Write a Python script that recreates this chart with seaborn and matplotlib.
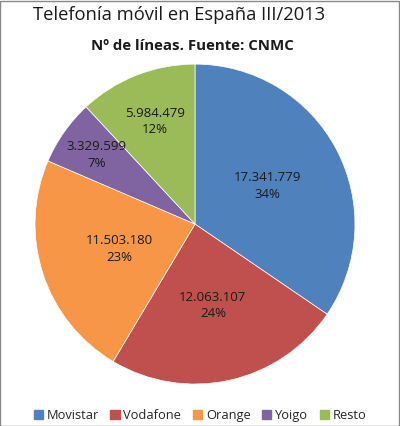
import numpy as np
import matplotlib
matplotlib.use("Agg")
import matplotlib.pyplot as plt
import seaborn as sns

# data
operadores = ["Movistar", "Vodafone", "Orange", "Yoigo", "Resto"]
lineas = [17341779, 12063107, 11503180, 3329599, 5984479]
colores = ["#4F81BD", "#C0504D", "#F79646", "#8064A2", "#9BBB59"]

sns.set_theme(style="white")
plt.rcParams["font.family"] = ["Open Sans", "DejaVu Sans"]

fig = plt.figure(figsize=(4.0, 4.26), dpi=100)
ax = fig.add_axes([0.0875, 0.0985, 0.8, 0.751])


def fmt_miles(v):
    return f"{v:,}".replace(",", ".")


def porcentajes(vals):
    # rounded percentages that add up to 100 (largest remainder, like Excel)
    raw = 100 * np.array(vals) / sum(vals)
    base = np.floor(raw).astype(int)
    resto = 100 - base.sum()
    orden = np.argsort(-(raw - base))
    base[orden[:resto]] += 1
    return base


pcts = porcentajes(lineas)

wedges, _ = ax.pie(lineas, colors=colores, startangle=90, counterclock=False,
                   wedgeprops=dict(edgecolor="white", linewidth=0.5))
ax.set_xlim(-1.0, 1.0)
ax.set_ylim(-1.0, 1.0)
ax.set_aspect("equal")

# label distance per slice (fraction of radius), like the Excel layout
dist = [0.51, 0.52, 0.50, 0.75, 0.69]
for w, v, p, d in zip(wedges, lineas, pcts, dist):
    ang = np.deg2rad((w.theta1 + w.theta2) / 2)
    ax.text(d * np.cos(ang), d * np.sin(ang), f"{fmt_miles(v)}\n{p}%",
            ha="center", va="center", fontsize=9.5, color="#1a1a1a",
            linespacing=1.35)

fig.text(0.083, 0.965, "Telefonía móvil en España III/2013", fontsize=13.2,
         ha="left", va="center", color="#1a1a1a")
fig.text(0.48, 0.892, "Nº de líneas. Fuente: CNMC", fontsize=10.8,
         fontweight="bold", ha="center", va="center", color="#1a1a1a")

handles = [plt.Rectangle((0, 0), 1, 1, color=c) for c in colores]
fig.legend(handles, operadores, loc="center", bbox_to_anchor=(0.5, 0.025),
           ncol=5, frameon=False, fontsize=9.3, handlelength=0.7,
           handleheight=0.7, handletextpad=0.3, columnspacing=0.9)

# thin grey frame around the image
fig.patches.append(plt.Rectangle((0.001, 0.001), 0.997, 0.997, transform=fig.transFigure,
                                 fill=False, edgecolor="#888888", linewidth=1))

fig.savefig("out.png", dpi=100)
